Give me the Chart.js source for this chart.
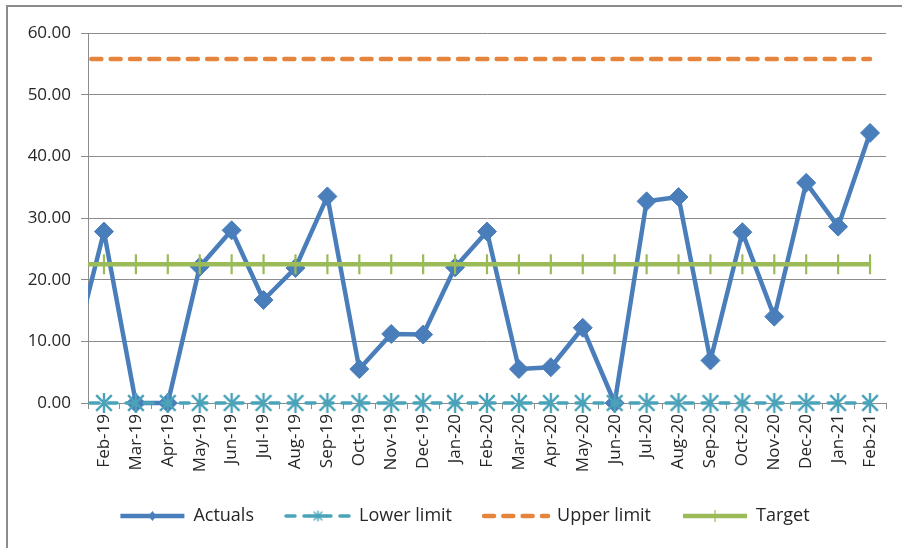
<!DOCTYPE html>
<html>
<head>
<meta charset="utf-8">
<script src="https://cdn.jsdelivr.net/npm/chart.js@4.4.1/dist/chart.umd.min.js"></script>
<style>
  html, body { margin: 0; padding: 0; background: #fff; }
  #wrap { position: relative; width: 902px; height: 548px; }
  #frameL { position: absolute; left: 6px; top: 5px; width: 2px; height: 543px; background: #8c8c8c; }
  #frameT { position: absolute; left: 6px; top: 5px; width: 896px; height: 2px; background: #8c8c8c; }
</style>
</head>
<body>
<div id="wrap">
  <canvas id="c" width="902" height="548"></canvas>
  <div id="frameL"></div>
  <div id="frameT"></div>
</div>
<script>
// Categories (Jan-19 lies just outside the visible axis range; its line segment enters from the left edge)
const categories = ['Jan-19','Feb-19','Mar-19','Apr-19','May-19','Jun-19','Jul-19','Aug-19','Sep-19','Oct-19','Nov-19','Dec-19',
  'Jan-20','Feb-20','Mar-20','Apr-20','May-20','Jun-20','Jul-20','Aug-20','Sep-20','Oct-20','Nov-20','Dec-20',
  'Jan-21','Feb-21'];
const firstVisible = 'Feb-19';

const actuals    = [7.2, 27.8, 0, 0, 22.1, 28.0, 16.7, 21.9, 33.5, 5.5, 11.2, 11.1,
                    22.0, 27.8, 5.5, 5.8, 12.2, 0, 32.7, 33.4, 6.9, 27.7, 14.0, 35.7,
                    28.6, 43.8];
const lowerLimit = [0,0,0,0,0,0,0,0,0,0,0,0,0,0,0,0,0,0,0,0,0,0,0,0,0,0];
const upperLimit = [55.8,55.8,55.8,55.8,55.8,55.8,55.8,55.8,55.8,55.8,55.8,55.8,55.8,55.8,55.8,55.8,55.8,55.8,55.8,55.8,55.8,55.8,55.8,55.8,55.8,55.8];
const target     = [22.5,22.5,22.5,22.5,22.5,22.5,22.5,22.5,22.5,22.5,22.5,22.5,22.5,22.5,22.5,22.5,22.5,22.5,22.5,22.5,22.5,22.5,22.5,22.5,22.5,22.5];

const seriesNames = ['Actuals', 'Lower limit', 'Upper limit', 'Target'];
const yTicks = { min: 0, max: 60, step: 10 };

const BLUE = '#4A7EBB', TEAL = '#4AA3B8', ORANGE = '#E5853D', GREEN = '#9BBB59';
const GRID = '#8C8C8C', TEXT = '#262626';

function asterisk(size, lw, color) {
  const c = document.createElement('canvas');
  c.width = size; c.height = size;
  const g = c.getContext('2d');
  g.strokeStyle = color; g.lineWidth = lw; g.lineCap = 'butt';
  const m = size / 2, r = size / 2 - 1, d = r * 0.78;
  g.beginPath();
  g.moveTo(m, m - r); g.lineTo(m, m + r);
  g.moveTo(m - d, m - d); g.lineTo(m + d, m + d);
  g.moveTo(m + d, m - d); g.lineTo(m - d, m + d);
  g.stroke();
  return c;
}
const astBig = asterisk(22, 2.4, TEAL);
const astSmall = asterisk(13, 1.4, TEAL);

const clipArea = { left: 0, top: 12, right: 12, bottom: 14 };
const PSW = 64;

const legendShift = {
  id: 'legendShift',
  afterLayout(chart) {
    const lg = chart.legend;
    if (!lg) return;
    lg.left = 44;
    lg.width = lg.right - lg.left;
  }
};

const legendMarkers = {
  id: 'legendMarkers',
  afterDraw(chart) {
    const lg = chart.legend;
    if (!lg || !lg.legendHitBoxes) return;
    const ctx = chart.ctx;
    lg.legendItems.forEach((item, i) => {
      const hb = lg.legendHitBoxes[i];
      const cx = hb.left + PSW / 2;
      const cy = hb.top + 9;
      ctx.save();
      if (item.datasetIndex === 0) {
        ctx.fillStyle = BLUE;
        ctx.beginPath();
        ctx.moveTo(cx, cy - 5); ctx.lineTo(cx + 4, cy); ctx.lineTo(cx, cy + 5); ctx.lineTo(cx - 4, cy);
        ctx.closePath(); ctx.fill();
      } else if (item.datasetIndex === 1) {
        ctx.fillStyle = '#fff';
        ctx.fillRect(cx - 8, cy - 3, 16, 6);
        ctx.strokeStyle = TEAL; ctx.lineWidth = 3.5;
        ctx.beginPath(); ctx.moveTo(cx - 9, cy); ctx.lineTo(cx + 9, cy); ctx.stroke();
        ctx.drawImage(astSmall, cx - astSmall.width / 2, cy - astSmall.height / 2);
      } else if (item.datasetIndex === 3) {
        ctx.strokeStyle = GREEN; ctx.lineWidth = 1.2;
        ctx.beginPath(); ctx.moveTo(cx, cy - 6); ctx.lineTo(cx, cy + 6); ctx.stroke();
      }
      ctx.restore();
    });
  }
};

new Chart(document.getElementById('c'), {
  type: 'line',
  data: {
    labels: categories,
    datasets: [
      {
        label: seriesNames[0], data: actuals, order: 4,
        borderColor: BLUE, backgroundColor: BLUE, borderWidth: 4.5, tension: 0,
        borderJoinStyle: 'round',
        pointStyle: 'rectRot', pointRadius: 9.5, pointBorderWidth: 1,
        pointBackgroundColor: BLUE, pointBorderColor: BLUE, clip: clipArea
      },
      {
        label: seriesNames[1], data: lowerLimit, order: 3,
        borderColor: TEAL, backgroundColor: TEAL, borderWidth: 3.5, borderDash: [9, 9],
        borderCapStyle: 'round',
        pointStyle: astBig, pointRadius: 10, clip: clipArea
      },
      {
        label: seriesNames[2], data: upperLimit, order: 2,
        borderColor: ORANGE, backgroundColor: ORANGE, borderWidth: 4.5, borderDash: [10, 9.3],
        borderCapStyle: 'round', pointRadius: 0, clip: clipArea
      },
      {
        label: seriesNames[3], data: target, order: 1,
        borderColor: GREEN, backgroundColor: GREEN, borderWidth: 4.5,
        pointStyle: 'line', pointRotation: 90, pointRadius: 10, pointBorderWidth: 2.2,
        pointBorderColor: GREEN, pointBackgroundColor: GREEN, clip: clipArea
      }
    ]
  },
  options: {
    responsive: false,
    animation: false,
    events: [],
    layout: { padding: { left: 0, right: 16, top: 33, bottom: 13 } },
    scales: {
      x: {
        type: 'category',
        min: firstVisible,
        offset: true,
        grid: { display: true, offset: true, drawOnChartArea: false, drawTicks: true, tickLength: 6, color: GRID, lineWidth: 1 },
        border: { display: true, color: GRID, width: 1 },
        ticks: {
          autoSkip: false, maxRotation: 90, minRotation: 90, padding: 5,
          color: TEXT, font: { family: 'Open Sans', size: 17 }
        },
        afterFit(s) { s.height = 72; }
      },
      y: {
        min: yTicks.min, max: yTicks.max,
        grid: { color: GRID, lineWidth: 1, tickLength: 7, drawTicks: true },
        border: { display: true, color: GRID, width: 1 },
        ticks: {
          stepSize: yTicks.step, padding: 10, color: TEXT,
          font: { family: 'Open Sans', size: 17 },
          callback: (v) => Number(v).toFixed(2)
        },
        afterFit(s) { s.width = 88; }
      }
    },
    plugins: {
      legend: {
        position: 'bottom',
        labels: {
          usePointStyle: true, pointStyle: 'line', pointStyleWidth: PSW,
          padding: 32, color: TEXT, font: { family: 'Open Sans', size: 18 },
          generateLabels(chart) {
            const items = Chart.defaults.plugins.legend.labels.generateLabels(chart);
            items.forEach(it => {
              const ds = chart.data.datasets[it.datasetIndex];
              it.pointStyle = 'line';
              it.rotation = 0;
              it.lineWidth = ds.borderWidth;
              it.lineDash = ds.borderDash || [];
              it.lineDashOffset = 0;
              it.lineCap = ds.borderCapStyle || 'butt';
              it.strokeStyle = ds.borderColor;
              it.fillStyle = ds.borderColor;
            });
            return items;
          },
          sort: (a, b) => a.datasetIndex - b.datasetIndex
        }
      },
      tooltip: { enabled: false }
    }
  },
  plugins: [legendShift, legendMarkers]
});
</script>
</body>
</html>
